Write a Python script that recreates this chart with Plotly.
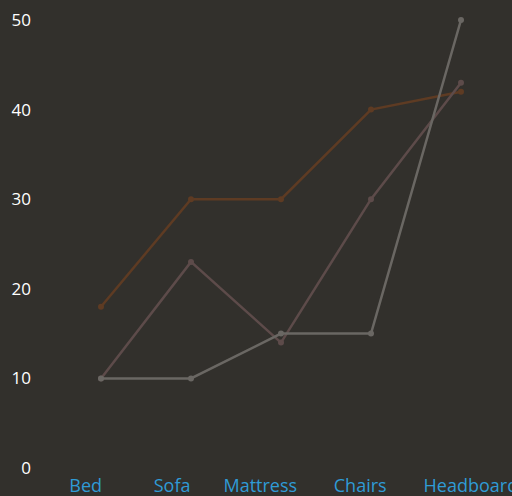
import plotly.graph_objects as go

categories = ["Bed", "Sofa", "Mattress", "Chairs", "Headboard"]
series_brown = [18, 30, 30, 40, 42]
series_mauve = [10, 23, 14, 30, 43]
series_gray = [10, 10, 15, 15, 50]
y_ticks = [0, 10, 20, 30, 40, 50]
label_offsets = [-0.17, -0.21, -0.23, -0.12, 0.11]

xs = list(range(len(categories)))
fig = go.Figure()
for vals, col in [(series_brown, "#5e3b23"), (series_mauve, "#5d4b4a"), (series_gray, "#6a6763")]:
    fig.add_trace(go.Scatter(
        x=xs, y=vals, mode="lines+markers",
        line=dict(color=col, width=2.5),
        marker=dict(color=col, size=6),
        cliponaxis=False, showlegend=False, hoverinfo="skip"))

fig.update_layout(
    width=512, height=496,
    margin=dict(l=56, r=6, t=20, b=28),
    paper_bgcolor="#32302c", plot_bgcolor="#32302c",
    xaxis=dict(range=[-0.5, 4.5], showgrid=False, zeroline=False, showline=False,
               automargin=False,
               tickmode="array",
               tickvals=[i + o for i, o in zip(xs, label_offsets)],
               ticktext=categories, ticks="", ticklabelstandoff=5,
               ticklabeloverflow="allow",
               tickfont=dict(family="Open Sans", size=18, color="#2f9bd6")),
    yaxis=dict(range=[0, 50], showgrid=False, zeroline=False, showline=False,
               automargin=False,
               tickmode="array", tickvals=y_ticks, ticks="", ticklabelstandoff=24,
               ticklabeloverflow="allow",
               tickfont=dict(family="Open Sans", size=17, color="#ffffff")),
)
fig.write_html("out.html", config={"displayModeBar": False},
               post_script="document.body.style.margin='0';document.body.style.background='#32302c';document.body.style.overflow='hidden';")
